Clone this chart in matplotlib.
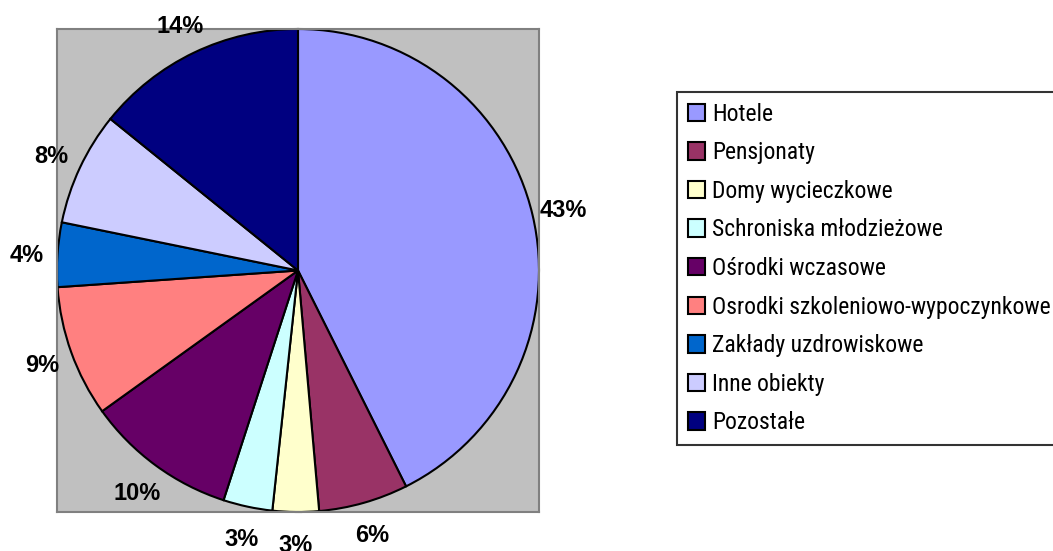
import matplotlib
matplotlib.use("Agg")
import matplotlib.pyplot as plt
from matplotlib import font_manager

categories = ["Hotele", "Pensjonaty", "Domy wycieczkowe", "Schroniska młodzieżowe",
              "Ośrodki wczasowe", "Osrodki szkoleniowo-wypoczynkowe",
              "Zakłady uzdrowiskowe", "Inne obiekty", "Pozostałe"]
shares = [42.6, 6.0, 3.1, 3.3, 10.1, 8.8, 4.3, 7.6, 14.2]
colors = ["#9999FF", "#993366", "#FFFFCC", "#CCFFFF", "#660066",
          "#FF8080", "#0066CC", "#CCCCFF", "#000080"]

available = set(f.name for f in font_manager.fontManager.ttflist)


def first_font(names):
    for n in names:
        if n in available:
            return n
    return "DejaVu Sans"


label_family = first_font(["Liberation Sans", "Arimo", "Arial"])
narrow_family = first_font(["Liberation Sans Narrow", "Arial Narrow", "Roboto Condensed",
                            "Archivo Narrow", "Open Sans Condensed", "Barlow Semi Condensed"])

W, H = 1053, 551
fig = plt.figure(figsize=(W / 100, H / 100), dpi=100)
ax = fig.add_axes([57 / W, 1 - 512 / H, 482 / W, 483 / H])
ax.set_facecolor("#C0C0C0")

wedges, texts, autotexts = ax.pie(
    shares, colors=colors, startangle=90, counterclock=False,
    autopct="%.0f%%", pctdistance=1.13, frame=True,
    wedgeprops=dict(edgecolor="black", linewidth=1.5),
    textprops=dict(family=[label_family, "DejaVu Sans"], fontweight="bold",
                   fontstretch="normal", fontsize=17))
for t in autotexts:
    t.set_clip_on(False)
    t.set_verticalalignment("center_baseline")

ax.set_xlim(-1, 1)
ax.set_ylim(-1, 1)
ax.set_aspect("auto")
ax.set_xticks([])
ax.set_yticks([])
for s in ax.spines.values():
    s.set_color("#808080")
    s.set_linewidth(1.5)

leg = fig.legend(wedges, categories, loc="upper left",
                 bbox_to_anchor=(677 / W, 1 - 92 / H), borderaxespad=0,
                 prop=dict(family=[narrow_family, "DejaVu Sans"], size=17),
                 frameon=True, fancybox=False, borderpad=0.45,
                 handlelength=0.75, handleheight=0.75, handletextpad=0.3,
                 labelspacing=0.66)
leg.get_frame().set_edgecolor("black")
leg.get_frame().set_linewidth(1.5)
for h in leg.legend_handles:
    h.set_edgecolor("black")
    h.set_linewidth(1.5)

fig.savefig("out.png", dpi=100)
